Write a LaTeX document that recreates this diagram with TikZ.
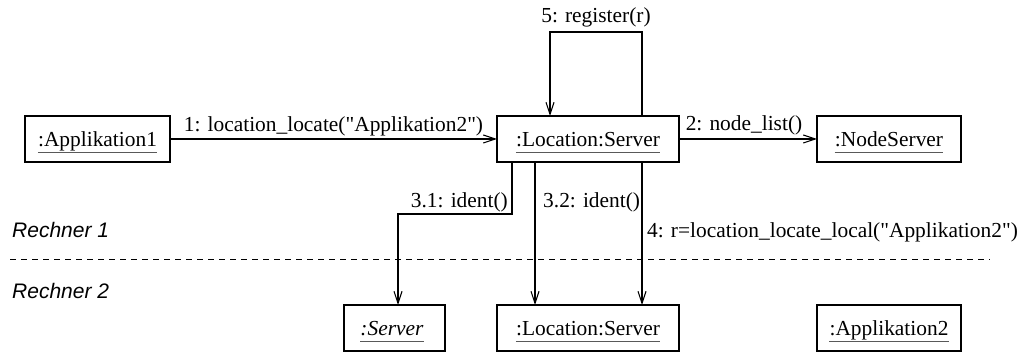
\documentclass[tikz,border=0pt]{standalone}
\usepackage{fontspec}
\setmainfont{Liberation Serif}[Ligatures=TeXOff]
\setsansfont{Liberation Sans}
\usetikzlibrary{arrows.meta}
\tikzset{
  objbox/.style={draw, line width=1.6pt, rectangle, inner sep=0pt, outer sep=0pt, minimum height=46pt},
  objtext/.style={inner sep=0pt, anchor=base, font=\fontsize{21.4}{25}\selectfont},
  msglabel/.style={inner sep=0pt, font=\fontsize{21.4}{25}\selectfont},
  hostlabel/.style={inner sep=0pt, anchor=base west, font=\fontsize{21}{25}\sffamily\itshape},
  msg/.style={line width=1.1pt, -{Straight Barb[length=12pt,width=8pt]}},
  ul/.style={line width=1pt, black!65},
  sep/.style={line width=1pt, dash pattern=on 6pt off 5pt}
}
\newcommand{\ulnode}[1]{\draw[ul] ([yshift=-6pt]#1.base west) -- ([yshift=-6pt]#1.base east);}
\begin{document}
\begin{tikzpicture}[x=1pt,y=-1pt]
\useasboundingbox (0,0) rectangle (1018,352);
% boxes
\node[objbox, minimum width=145pt] (app1) at (97.5,139) {};
\node[objbox, minimum width=182pt] (loct) at (588,139) {};
\node[objbox, minimum width=144pt] (nodes) at (889,139) {};
\node[objbox, minimum width=101pt] (srv) at (394.5,328) {};
\node[objbox, minimum width=182pt] (locb) at (588,328) {};
\node[objbox, minimum width=144pt] (app2) at (889,328) {};
% box texts
\node[objtext] (app1t) at (97.5,147) {:Applikation1};
\node[objtext] (loctt) at (588,147) {:Location:Server};
\node[objtext] (nodest) at (889,147) {:NodeServer};
\node[objtext] (srvt) at (392,336) {\textit{:Server}};
\node[objtext] (locbt) at (588,336) {:Location:Server};
\node[objtext] (app2t) at (889,336) {:Applikation2};
\ulnode{app1t}
\ulnode{loctt}
\ulnode{nodest}
\ulnode{srvt}
\ulnode{locbt}
\ulnode{app2t}
% separator
\coordinate (dl) at (10,259.5);
\coordinate (dr) at (990,259.5);
\draw[sep] (dl) -- (dr);
\node[hostlabel] (r1) at (12,238) {Rechner 1};
\node[hostlabel] (r2) at (12,299) {Rechner 2};
% messages
\draw[msg] (app1.east) -- (loct.west);
\draw[msg] (loct.east) -- (nodes.west);
\draw[msg] ([xshift=145pt]loct.north west) -- ++(0,-84) -| ([xshift=53pt]loct.north west);
\draw[msg] ([xshift=15pt]loct.south west) -- ++(0,52) -| ([xshift=3.5pt]srv.north);
\draw[msg] ([xshift=38pt]loct.south west) -- ([xshift=38pt]locb.north west);
\draw[msg] ([xshift=145pt]loct.south west) -- ([xshift=145pt]locb.north west);
% message labels
\node[msglabel, anchor=base] (l1) at (333.5,132) {1: location\_locate("Applikation2")};
\node[msglabel, anchor=base] (l2) at (744,131) {2: node\_list()};
\node[msglabel, anchor=base] (l5) at (596,23) {5: register(r)};
\node[msglabel, anchor=base east] (l31) at (508,208) {3.1: ident()};
\node[msglabel, anchor=base west] (l32) at (543,208) {3.2: ident()};
\node[msglabel, anchor=base west] (l4) at (647,238) {4: r=location\_locate\_local("Applikation2")};
\end{tikzpicture}
\end{document}
